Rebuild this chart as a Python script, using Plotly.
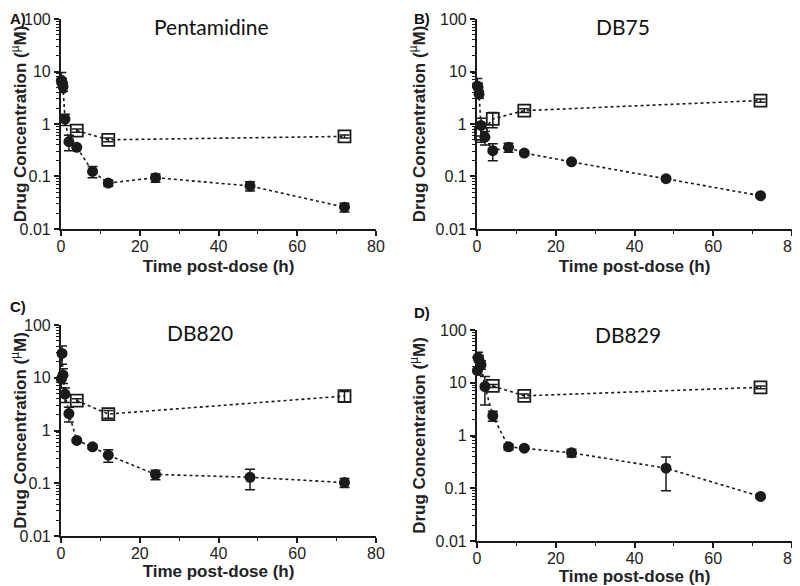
import plotly.graph_objects as go

# sampling times (h)
T_CIRCLE = [0.083, 0.25, 0.5, 1, 2, 4, 8, 12, 24, 48, 72]

# A) Pentamidine
PENT_CONC = [6.8, 6.2, 5.2, 1.24, 0.46, 0.36, 0.125, 0.075, 0.095, 0.066, 0.026]
PENT_SD = [2.8, 1.2, 1.0, 0.3, 0.15, 0.02, 0.03, 0.01, 0.017, 0.013, 0.005]
PENT_SQ_T = [4, 12, 72]
PENT_SQ = [0.75, 0.50, 0.58]
PENT_SQ_SD = [0.05, 0.04, 0.04]

# B) DB75
DB75_CONC = [5.3, 5.0, 3.7, 0.94, 0.56, 0.31, 0.36, 0.28, 0.19, 0.091, 0.043]
DB75_SD = [2.1, 1.0, 0.6, 0.35, 0.16, 0.11, 0.07, 0.02, 0.01, 0.005, 0.003]
DB75_SQ_T = [1, 4, 12, 72]
DB75_SQ = [0.65, 1.25, 1.8, 2.8]
DB75_SQ_SD = [0.2, 0.4, 0.15, 0.2]

# C) DB820
DB820_CONC = [9.5, 29, 11.3, 4.9, 2.1, 0.65, 0.49, 0.34, 0.147, 0.13, 0.103]
DB820_SD = [3, 11, 3.5, 1.5, 0.65, 0.05, 0.04, 0.09, 0.03, 0.055, 0.02]
DB820_SQ_T = [4, 12, 72]
DB820_SQ = [3.7, 2.05, 4.5]
DB820_SQ_SD = [0.3, 0.35, 1.0]

# D) DB829
DB829_CONC = [17, 30, 27, 22, 8.5, 2.37, 0.61, 0.575, 0.47, 0.24, 0.070]
DB829_SD = [3, 8, 6, 4, 4.7, 0.5, 0.08, 0.03, 0.08, 0.15, 0.005]
DB829_SQ_T = [4, 12, 72]
DB829_SQ = [8.7, 5.65, 8.2]
DB829_SQ_SD = [0.6, 0.5, 0.5]

Y_TICKS = [0.01, 0.1, 1, 10, 100]
Y_TICK_TEXT = ["0.01", "0.1", "1", "10", "100"]

# tag, name, data..., x domain, y domain, tag y, name (x, y), x-title standoff
# (page body has an 8px margin, domains are shifted to compensate)
panels = [
    ("A)", "Pentamidine", PENT_CONC, PENT_SD, PENT_SQ_T, PENT_SQ, PENT_SQ_SD,
     [0.0663, 0.46], [0.6229, 0.9812], 1.0, (0.254, 0.9676), 6),
    ("B)", "DB75", DB75_CONC, DB75_SD, DB75_SQ_T, DB75_SQ, DB75_SQ_SD,
     [0.5863, 0.98], [0.6229, 0.9812], 1.0, (0.769, 0.9676), 6),
    ("C)", "DB820", DB820_CONC, DB820_SD, DB820_SQ_T, DB820_SQ, DB820_SQ_SD,
     [0.0663, 0.46], [0.099, 0.459], 0.4898, (0.24, 0.4454), 4),
    ("D)", "DB829", DB829_CONC, DB829_SD, DB829_SQ_T, DB829_SQ, DB829_SQ_SD,
     [0.5863, 0.98], [0.0904, 0.4505], 0.4812, (0.775, 0.442), 1),
]

INK = "#1a1a1a"
FONT = "Liberation Sans, Arial, sans-serif"
minor_y = [k * 10.0 ** e for e in range(-2, 2) for k in range(2, 10)]

fig = go.Figure()
layout = {}
annotations = []

for i, (tag, name, conc, sd, sq_t, sq, sq_sd, xdom, ydom, tag_y, name_xy, x_standoff) in enumerate(panels):
    n = "" if i == 0 else str(i + 1)
    xa, ya = "x" + n, "y" + n

    fig.add_trace(go.Scatter(
        x=sq_t, y=sq, xaxis=xa, yaxis=ya, mode="lines+markers",
        line={"color": INK, "width": 1.6, "dash": "dot"},
        marker={"symbol": "square-open", "size": 12, "color": INK,
                "line": {"width": 1.8}},
        error_y={"type": "data", "array": sq_sd, "color": INK,
                 "thickness": 1.5, "width": 5},
        cliponaxis=False, showlegend=False,
    ))
    fig.add_trace(go.Scatter(
        x=T_CIRCLE, y=conc, xaxis=xa, yaxis=ya, mode="lines+markers",
        line={"color": INK, "width": 1.6, "dash": "dot"},
        marker={"symbol": "circle", "size": 11, "color": INK},
        error_y={"type": "data", "array": sd, "color": INK,
                 "thickness": 1.5, "width": 5},
        cliponaxis=False, showlegend=False,
    ))

    layout["xaxis" + n] = dict(
        domain=xdom, anchor=ya, range=[0, 80], tickvals=[0, 20, 40, 60, 80],
        automargin=False, ticklabelstandoff=-3,
        showline=True, linewidth=2.2, linecolor=INK, ticks="outside",
        ticklen=5, tickwidth=1.5, tickcolor=INK, showgrid=False, zeroline=False,
        minor={"tickvals": [10, 30, 50, 70], "ticks": "outside", "ticklen": 3,
               "tickwidth": 1.2, "tickcolor": INK, "showgrid": False},
        tickfont={"family": FONT, "size": 16, "color": "#222"},
        title={"text": "<b>Time post-dose (h)</b>", "standoff": x_standoff,
               "font": {"family": FONT, "size": 17, "color": "#222"}},
    )
    layout["yaxis" + n] = dict(
        domain=ydom, anchor=xa, type="log", range=[-2, 2],
        tickvals=Y_TICKS, ticktext=Y_TICK_TEXT, automargin=False,
        showline=True, linewidth=2.2, linecolor=INK, ticks="outside",
        ticklen=5, tickwidth=1.5, tickcolor=INK, showgrid=False, zeroline=False,
        minor={"tickvals": minor_y, "ticks": "outside", "ticklen": 2.5,
               "tickwidth": 1, "tickcolor": INK, "showgrid": False},
        tickfont={"family": FONT, "size": 16, "color": "#222"},
        title={"text": "<b>Drug Concentration (</b><sup>µ</sup><b>M)</b>",
               "standoff": 6,
               "font": {"family": FONT, "size": 17, "color": "#222"}},
    )

    # panel tag and compound name
    tag_x = 0.0 if xdom[0] < 0.5 else 0.505
    annotations.append(dict(
        x=tag_x, y=tag_y, xref="paper", yref="paper", text="<b>" + tag + "</b>",
        showarrow=False, xanchor="left", yanchor="top" if tag_y >= 1.0 else "middle",
        font={"family": FONT, "size": 15, "color": "#111"},
    ))
    annotations.append(dict(
        x=name_xy[0], y=name_xy[1], xref="paper", yref="paper",
        text=name, showarrow=False, xanchor="center", yanchor="middle",
        font={"family": "Lato, Open Sans, sans-serif", "size": 21, "color": "#111"},
    ))

fig.update_layout(
    width=800, height=586, template="plotly_white",
    plot_bgcolor="white", paper_bgcolor="white",
    margin={"l": 0, "r": 0, "t": 0, "b": 0},
    annotations=annotations, **layout,
)

fig.write_html("out.html")
